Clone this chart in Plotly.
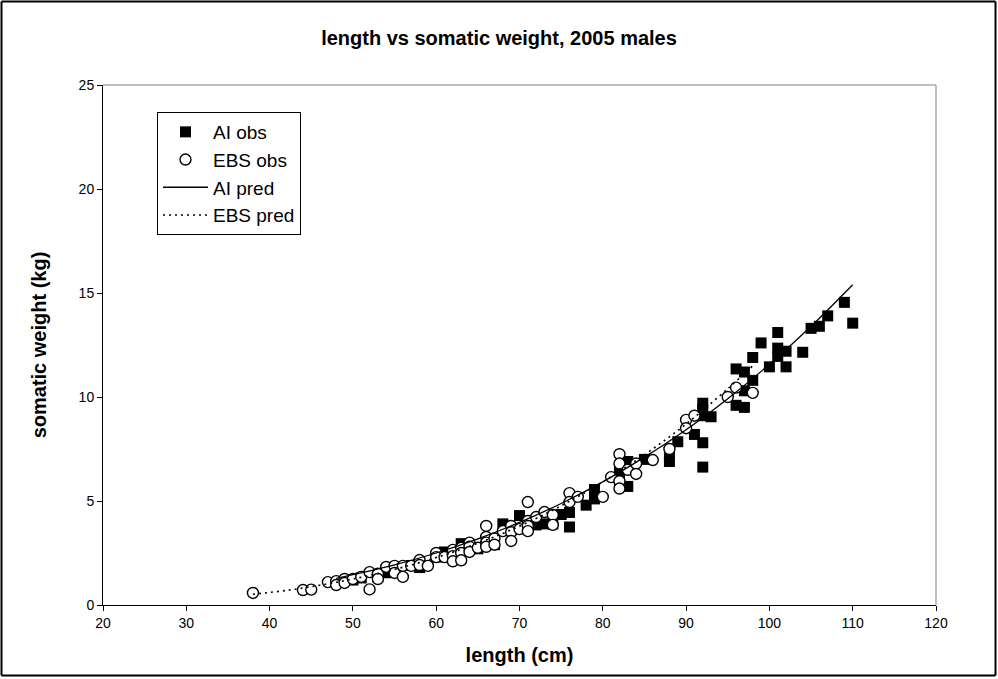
import plotly.graph_objects as go

# ---- data ----
ai_len = [50, 51, 53, 54, 55, 57, 58, 60, 61, 62, 63, 64, 65, 66, 67, 68, 70, 72, 73, 74,
          75, 76, 76, 78, 79, 79, 82, 82, 82, 83, 83, 85, 88, 88, 89, 91, 92, 92, 92, 92,
          92, 93, 96, 96, 97, 97, 97, 98, 98, 99, 100, 101, 101, 101, 102, 102, 104, 105,
          106, 107, 109, 110]
ai_wt = [1.2, 1.3, 1.35, 1.55, 1.7, 1.9, 1.8, 2.3, 2.55, 2.4, 2.95, 2.85, 2.7, 3.0, 2.9, 3.9,
         4.3, 3.85, 3.9, 3.9, 4.35, 3.75, 4.45, 4.8, 5.1, 5.55, 5.7, 6.0, 6.5, 5.7, 6.9, 7.0,
         6.9, 7.2, 7.85, 8.2, 6.63, 7.8, 9.1, 9.4, 9.7, 9.05, 9.6, 11.35, 9.5, 10.3, 11.2,
         10.8, 11.9, 12.6, 11.45, 13.1, 12.35, 11.95, 12.2, 11.45, 12.15, 13.3, 13.4, 13.9,
         14.55, 13.55]

ebs_len = [38, 44, 45, 47, 48, 48, 49, 49, 50, 51, 52, 52, 53, 53, 54, 55, 55, 56, 56, 57,
           58, 58, 59, 60, 60, 61, 62, 62, 62, 63, 63, 63, 64, 64, 64, 65, 66, 66, 66, 66,
           67, 67, 68, 69, 69, 69, 70, 71, 71, 71, 71, 72, 73, 74, 74, 76, 76, 77, 80, 81,
           82, 82, 82, 82, 83, 84, 84, 86, 88, 90, 90, 91, 95, 96, 98]
ebs_wt = [0.58, 0.72, 0.74, 1.1, 1.15, 0.96, 1.25, 1.06, 1.25, 1.35, 1.58, 0.75, 1.5, 1.25,
          1.83, 1.88, 1.54, 1.88, 1.35, 1.88, 2.16, 1.92, 1.88, 2.5, 2.3, 2.3, 2.65, 2.35,
          2.1, 2.75, 2.5, 2.15, 3.0, 2.8, 2.55, 2.75, 3.8, 3.27, 3.0, 2.8, 3.2, 2.9, 3.55,
          3.8, 3.5, 3.08, 3.65, 4.95, 4.04, 3.8, 3.55, 4.23, 4.47, 4.33, 3.85, 5.38, 4.95,
          5.2, 5.2, 6.15, 7.25, 6.8, 5.95, 5.6, 6.5, 6.8, 6.3, 6.97, 7.5, 8.9, 8.5, 9.1,
          10.0, 10.45, 10.2]

ai_pred_len = [48, 55, 60, 65, 70, 75, 80, 85, 90, 95, 100, 105, 110]
ai_pred_wt = [1.28, 1.93, 2.5, 3.18, 3.97, 4.88, 5.92, 7.11, 8.43, 9.92, 11.57, 13.4, 15.4]

ebs_pred_len = [38, 42, 46, 50, 55, 60, 65, 70, 75, 80, 85, 90, 95, 98]
ebs_pred_wt = [0.52, 0.7, 0.95, 1.25, 1.71, 2.28, 2.97, 3.79, 4.77, 5.92, 7.22, 8.7, 10.4, 11.5]

x_ticks = [20, 30, 40, 50, 60, 70, 80, 90, 100, 110, 120]
y_ticks = [0, 5, 10, 15, 20, 25]

FONT = "Arial, Liberation Sans, sans-serif"

fig = go.Figure()
fig.add_trace(go.Scatter(x=ai_len, y=ai_wt, mode="markers", name="AI obs",
                         marker=dict(symbol="square", size=11, color="black",
                                     line=dict(width=0))))
fig.add_trace(go.Scatter(x=ebs_len, y=ebs_wt, mode="markers", name="EBS obs",
                         marker=dict(symbol="circle", size=11, color="white",
                                     line=dict(width=1.4, color="black"))))
fig.add_trace(go.Scatter(x=ai_pred_len, y=ai_pred_wt, mode="lines", name="AI pred",
                         line=dict(color="black", width=1.3, shape="spline")))
fig.add_trace(go.Scatter(x=ebs_pred_len, y=ebs_pred_wt, mode="lines", name="EBS pred",
                         line=dict(color="black", width=1.6, dash="2px,4px", shape="spline")))

L, R, T, B = 103, 62, 85, 74
W, H = 998, 679
pw, ph = W - L - R, H - T - B


def px_x(p):
    return (p - L) / pw


def px_y(p):
    return (H - B - p) / ph


fig.update_layout(
    width=W, height=H,
    margin=dict(l=L, r=R, t=T, b=B),
    paper_bgcolor="white", plot_bgcolor="white",
    font=dict(family=FONT, color="black"),
    title=dict(text="<b>length vs somatic weight, 2005 males</b>", x=0.5, xref="container",
               xanchor="center", y=1 - 38 / H, yanchor="middle",
               font=dict(size=20, family=FONT)),
    showlegend=True,
    legend=dict(x=px_x(157), y=px_y(112), xanchor="left", yanchor="top",
                bgcolor="white", bordercolor="black", borderwidth=1, itemwidth=45,
                font=dict(size=19, family=FONT), tracegroupgap=0),
    xaxis=dict(range=[20, 120], tickvals=x_ticks, ticktext=[str(v) for v in x_ticks],
               showgrid=False, zeroline=False, showline=True, linecolor="black", linewidth=1,
               ticks="outside", ticklen=5, tickcolor="black", tickfont=dict(size=14),
               title=dict(text="<b>length (cm)</b>", font=dict(size=20), standoff=18)),
    yaxis=dict(range=[0, 25], tickvals=y_ticks, ticktext=[str(v) for v in y_ticks],
               showgrid=False, zeroline=False, showline=True, linecolor="black", linewidth=1,
               ticks="outside", ticklen=5, tickcolor="black", tickfont=dict(size=14),
               title=dict(text="<b>somatic weight (kg)</b>", font=dict(size=20), standoff=26)),
)

# gray top/right plot-area border
fig.add_shape(type="line", xref="paper", yref="paper", x0=0, x1=1, y0=1, y1=1,
              line=dict(color="#808080", width=1))
fig.add_shape(type="line", xref="paper", yref="paper", x0=1, x1=1, y0=0, y1=1,
              line=dict(color="#808080", width=1))
# outer chart frame as four separate lines
fx0, fx1, fy0, fy1 = px_x(1.5), px_x(995.5), px_y(675.5), px_y(1.5)
for a, b, c, d in [(fx0, fx1, fy1, fy1), (fx0, fx1, fy0, fy0),
                   (fx0, fx0, fy0, fy1), (fx1, fx1, fy0, fy1)]:
    fig.add_shape(type="line", xref="paper", yref="paper", x0=a, x1=b, y0=c, y1=d,
                  line=dict(color="black", width=2), layer="above")

fig.write_html("out.html")
